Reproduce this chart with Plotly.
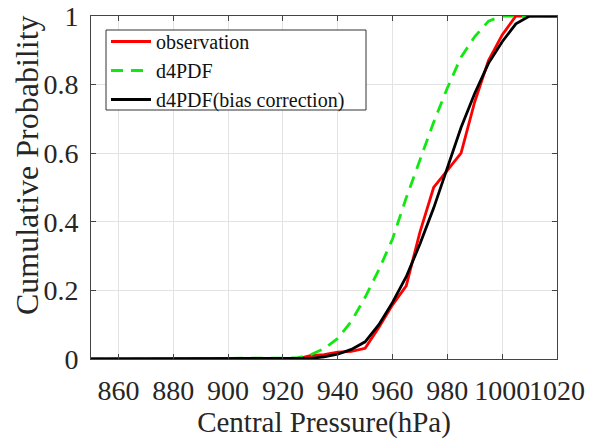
import plotly.graph_objects as go

pressure = [850, 925, 930, 935, 940, 945, 950, 955, 960, 965, 970, 975, 980, 985, 990, 995, 1000, 1005, 1010, 1020]
obs = [0, 0.0, 0.01, 0.013, 0.02, 0.022, 0.031, 0.092, 0.158, 0.213, 0.37, 0.50, 0.55, 0.60, 0.75, 0.87, 0.945, 1.0, 1.0, 1.0]
d4pdf = [0, 0.003, 0.012, 0.03, 0.06, 0.11, 0.18, 0.26, 0.35, 0.47, 0.58, 0.69, 0.79, 0.88, 0.94, 0.985, 1.0, 1.0, 1.0, 1.0]
d4pdf_bc = [0, 0.0, 0.002, 0.006, 0.014, 0.028, 0.05, 0.1, 0.165, 0.24, 0.335, 0.44, 0.558, 0.675, 0.775, 0.862, 0.925, 0.977, 1.0, 1.0]

x_ticks = [860, 880, 900, 920, 940, 960, 980, 1000, 1020]
y_ticks = [0, 0.2, 0.4, 0.6, 0.8, 1]
y_tick_text = ["0", "0.2", "0.4", "0.6", "0.8", "1"]

FONT = "Liberation Serif, Times New Roman, serif"
TXT = "#262626"

# plot area in pixels (for placing decorations in paper coords)
L, R, T, B = 91, 557, 16, 359
W, H = R - L, B - T

fig = go.Figure()
fig.add_trace(go.Scatter(x=pressure, y=obs, mode="lines", name="observation",
                         line=dict(color="#ff0000", width=2.8)))
fig.add_trace(go.Scatter(x=pressure, y=d4pdf, mode="lines", name="d4PDF",
                         line=dict(color="#11e811", width=2.8, dash="12px,8px")))
fig.add_trace(go.Scatter(x=pressure, y=d4pdf_bc, mode="lines", name="d4PDF(bias correction)",
                         line=dict(color="#000000", width=2.8)))

axis_common = dict(showgrid=True, gridcolor="#e3e3e3", gridwidth=1, automargin=False,
                   showline=True, linecolor="#444444", linewidth=1, mirror="ticks",
                   ticks="inside", ticklen=5, tickcolor="#444444",
                   tickfont=dict(family=FONT, size=28, color=TXT), zeroline=False)

fig.update_layout(
    width=597, height=439,
    margin=dict(l=L, r=597 - R, t=T, b=439 - B),
    paper_bgcolor="white", plot_bgcolor="white",
    font=dict(family=FONT, color=TXT),
    xaxis=dict(range=[850, 1020], tickmode="array", tickvals=x_ticks, tickangle=0,
               ticklabelstandoff=6,
               title=dict(text="Central Pressure(hPa)", font=dict(family=FONT, size=29, color=TXT), standoff=4),
               **axis_common),
    yaxis=dict(range=[0, 1], tickmode="array", tickvals=y_ticks, ticktext=y_tick_text,
               ticklabelstandoff=6, **axis_common),
    legend=dict(x=(106 - L) / W, y=(B - 22) / H, xanchor="left", yanchor="top",
                bgcolor="rgba(0,0,0,0)", borderwidth=0,
                font=dict(family=FONT, size=20, color="#111111"),
                itemwidth=40, tracegroupgap=0),
    shapes=[dict(type="rect", xref="paper", yref="paper", layer="above",
                 x0=(106 - L) / W, x1=(366 - L) / W, y0=(B - 110) / H, y1=(B - 30) / H,
                 fillcolor="white", line=dict(color="#333333", width=1))],
    annotations=[dict(text="Cumulative Probability", textangle=-90, xref="paper", yref="paper",
                      x=(27 - L) / W, y=(B - 165) / H, xanchor="center", yanchor="middle",
                      showarrow=False, font=dict(family=FONT, size=32, color=TXT))],
    showlegend=True,
)

fig.write_html("out.html", config={"displayModeBar": False},
               post_script="document.body.style.margin='0';")
